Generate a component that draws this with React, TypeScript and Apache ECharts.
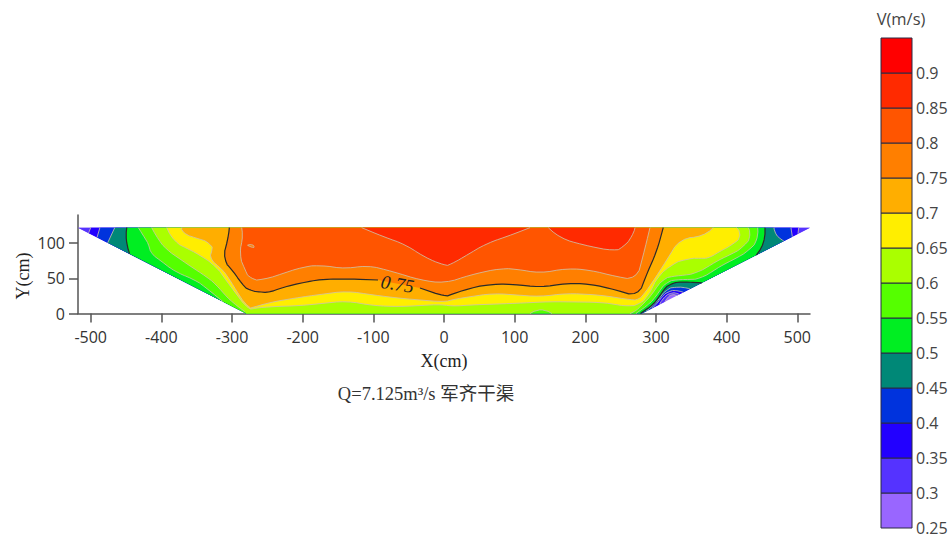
import React, { useEffect, useRef } from "react";
import * as echarts from "echarts";

type P = number[];

const xTicks = [-500, -400, -300, -200, -100, 0, 100, 200, 300, 400, 500];
const yTicks = [0, 50, 100];
const legendLevels = [0.25, 0.3, 0.35, 0.4, 0.45, 0.5, 0.55, 0.6, 0.65, 0.7, 0.75, 0.8, 0.85, 0.9, 0.95];
const legendTicks = [0.25, 0.3, 0.35, 0.4, 0.45, 0.5, 0.55, 0.6, 0.65, 0.7, 0.75, 0.8, 0.85, 0.9];
const legendColors = ["#9966ff", "#5533ff", "#2200ff", "#0033dd", "#008877", "#00ee22", "#55ff00", "#aaff00", "#ffee00", "#ffae00", "#ff7f00", "#ff5500", "#ff2a00", "#ff0000"];

const channel: P[] = [[-518, 122], [-280, 0], [280, 0], [518, 122]];
const cornerL: P = [-280, 0];
const cornerR: P = [280, 0];
const tipL: P = [-518, 122];
const tipR: P = [518, 122];

const pocket30: P[] = [[312.8, 16.8], [317, 24], [323, 27.5], [328, 26], [330, 25.6]];
const left35: P[] = [[-500, 122], [-503, 114.3]];
const pocket35: P[] = [[305, 12.8], [311, 24], [322, 30], [329, 29], [333, 27.2]];
const right35: P[] = [[501, 113.5], [502, 122]];
const left40: P[] = [[-487, 122], [-491, 108.2]];
const pocket40: P[] = [[294, 7.2], [301, 13], [308, 23.9], [317.4, 32], [329.3, 33.4], [338.7, 30.1]];
const right40: P[] = [[493, 109.2], [491, 122]];
const left45: P[] = [[-466, 122], [-476, 100.5]];
const pocket45: P[] = [[286, 3.1], [299, 13.5], [306, 23.5], [315.2, 34.8], [326.9, 38.1], [343.5, 36.7], [348, 34.9]];
const right45: P[] = [[481, 103], [475.5, 106.3], [468.4, 113.4], [467, 122]];
const left50: P[] = [[-449, 122], [-451, 104.5], [-445, 85]];
const pocket50: P[] = [[278, 0], [284.5, 5], [294, 10.7], [303.3, 21.6], [310.3, 33.4], [319.8, 42.9], [336.4, 45.2], [350.5, 44.3], [365, 43.6]];
const right50: P[] = [[442, 83], [454.3, 99.8], [454.3, 122]];
const left55: P[] = [[-432.6, 122], [-423.1, 106.9], [-416.1, 94.9], [-416.1, 85.6], [-401.9, 76], [-378.3, 57.1], [-354.8, 50], [-335.8, 35.8], [-313, 17]];
const right55: P[] = [[271.7, 0], [278.8, 5], [288.7, 12.1], [298.6, 22], [305.7, 33.4], [315.2, 45.2], [328.3, 48.3], [348.1, 48.3], [362.3, 49], [381.1, 60.4], [395.3, 69.9], [414.2, 78.5], [433, 90.3], [444.8, 104.5], [444, 122]];
const left60: P[] = [[-413.7, 122], [-404.3, 104.5], [-392.4, 90.3], [-378.3, 80.7], [-354.8, 64.2], [-335.8, 52.3], [-321.7, 40.5], [-312.3, 28.7], [-298.2, 14.5], [-281.6, 2.6]];
const floorNotch60: P[] = [[121.7, 0], [137.3, 8.5], [152.8, 0]];
const right60: P[] = [[263.2, 0], [270.3, 2.8], [277.4, 9.2], [285.9, 17.8], [293.9, 26.3], [301, 37.7], [310.3, 49], [322.7, 53.3], [341, 54], [357.6, 57.6], [374, 66.5], [388.2, 76], [404.7, 83.1], [426, 94.9], [435.5, 111.6], [430.6, 122]];
const line65: P[] = [[-392.4, 122], [-383.1, 102], [-364.1, 92.7], [-345.3, 83.1], [-321.7, 66.5], [-312.3, 52.3], [-298.2, 33.4], [-277, 5], [-269.9, 7.4], [-246.2, 9.7], [-203.8, 11.1], [-137.7, 17.8], [-100, 11.1], [-62.3, 9.7], [-1, 13.1], [8.5, 9.9], [36.8, 12.1], [102.9, 14.5], [150, 16.8], [220.8, 15.9], [242, 13.1], [260.8, 9.7], [277.4, 12.8], [287.3, 23.5], [296.2, 38.1], [300, 49], [319.8, 68.9], [343.5, 78.5], [364.7, 78.5], [376.4, 78.5], [388.2, 87.8], [409.4, 97.4], [423.1, 111.6], [414.2, 122]];
const line70: P[] = [[-371.2, 122], [-371.2, 114], [-350, 106.9], [-328.8, 100.6], [-327.3, 87.8], [-333.6, 78.5], [-317, 66.1], [-305.3, 52.3], [-293.4, 31], [-277, 7.4], [-270.3, 8.5], [-248.7, 15.4], [-201.4, 23.5], [-137.7, 32], [-100, 26.3], [-62.3, 21.6], [1.4, 16.3], [8.5, 19.2], [36.8, 23.9], [69.8, 28.7], [135.9, 23.9], [173.6, 28.7], [220.8, 26.3], [265.6, 19.2], [275, 19.2], [282, 26.3], [294.4, 43.3], [315.2, 76], [334, 106.9], [367, 109.2], [381.1, 122]];
const line75a: P[] = [[-303.8, 122], [-305.7, 104.5], [-314.2, 76], [-298.6, 61.8], [-285.9, 40.5], [-274.5, 32], [-260.4, 30.6], [-246.2, 29.6], [-236.3, 34.8], [-203.8, 43.3], [-171.2, 49], [-133, 49], [-93.4, 47.6]];
const line75b: P[] = [[-34, 36.2], [1.4, 23.9], [8.5, 26.3], [36.8, 36.2], [67.5, 41.9], [97.6, 41.5], [135.9, 37.2], [173.6, 42.9], [206.6, 41.9], [244.4, 33.4], [275, 23.5], [284.5, 50.5], [301, 87.8], [310.3, 122]];
const line80: P[] = [[-286.3, 122], [-284, 104.5], [-291.1, 85.6], [-281.6, 61.8], [-274.5, 47.6], [-255.7, 47.6], [-227.4, 57.1], [-199.1, 66.5], [-175.5, 68.9], [-137.7, 63.2], [-109.4, 68.9], [-71.8, 59.4], [-34, 47.6], [1.4, 42.9], [36.8, 54.7], [79.3, 64.2], [102.9, 63.2], [135.9, 57.1], [173.6, 64.2], [206.6, 61.8], [244.4, 52.3], [272.7, 47.6], [284.5, 92.7], [291.5, 122]];
const island80: P[] = [[-278, 97], [-273, 99], [-267, 95], [-271, 93], [-278, 97]];
const lobeA85: P[] = [[-116.5, 122], [-85.9, 109.2], [-52.8, 97.4], [-29.3, 80.7], [1.4, 67.9], [8.5, 68.9], [36.8, 85.6], [60.4, 99.8], [88.7, 109.2], [121.7, 122]];
const lobeB85: P[] = [[147.6, 122], [164.2, 106.9], [197.1, 97.4], [239.6, 88.8], [253.7, 92.7], [267.9, 111.6], [270.3, 122]];

const contourLabel = { text: "0.75", x: -65.8, y: 41.9 };

const PALE = "rgba(205,195,175,0.8)";
const DARK = "#2a2a2a";

// each band's region is the chain of its pieces; one-point pieces are channel corners
type Band = { parts: P[][]; color: string; lines: P[][]; stroke: string };
const bands: Band[] = [
  { parts: [channel], color: legendColors[0], lines: [], stroke: PALE },
  { parts: [[tipL], [cornerL], [cornerR], pocket30, [tipR]], color: legendColors[1], lines: [pocket30], stroke: PALE },
  { parts: [left35, [cornerL], [cornerR], pocket35, right35], color: legendColors[2], lines: [left35, pocket35, right35], stroke: PALE },
  { parts: [left40, [cornerL], [cornerR], pocket40, right40], color: legendColors[3], lines: [left40, pocket40, right40], stroke: PALE },
  { parts: [left45, [cornerL], [cornerR], pocket45, right45], color: legendColors[4], lines: [left45, pocket45, right45], stroke: PALE },
  { parts: [left50, [cornerL], pocket50, right50], color: legendColors[5], lines: [left50, pocket50, right50], stroke: DARK },
  { parts: [left55, [cornerL], right55], color: legendColors[6], lines: [left55, right55], stroke: PALE },
  { parts: [left60, [cornerL], floorNotch60, right60], color: legendColors[7], lines: [left60, floorNotch60, right60], stroke: PALE },
  { parts: [line65], color: legendColors[8], lines: [line65], stroke: PALE },
  { parts: [line70], color: legendColors[9], lines: [line70], stroke: PALE },
  { parts: [line75a, line75b], color: legendColors[10], lines: [line75a, line75b], stroke: DARK },
  { parts: [line80], color: legendColors[11], lines: [line80], stroke: PALE },
  { parts: [island80], color: legendColors[10], lines: [island80], stroke: PALE },
  { parts: [lobeA85], color: legendColors[12], lines: [lobeA85], stroke: PALE },
  { parts: [lobeB85], color: legendColors[12], lines: [lobeB85], stroke: PALE },
];

const SANS = "'Open Sans', 'Noto Sans', sans-serif";
const SERIF = "'Liberation Serif', 'Noto Sans CJK SC', serif";

// rounds the corners of a drawn contour, in pixels, keeping its two ends fixed
function roundCorners(pts: number[][], radius: number): number[][] {
  if (pts.length < 3) return pts;
  const out: number[][] = [pts[0]];
  for (let i = 1; i < pts.length - 1; i++) {
    const p = pts[i], a = pts[i - 1], b = pts[i + 1];
    const la = Math.hypot(a[0] - p[0], a[1] - p[1]) || 1;
    const lb = Math.hypot(b[0] - p[0], b[1] - p[1]) || 1;
    const da = Math.min(la * 0.4, radius), db = Math.min(lb * 0.4, radius);
    out.push([p[0] + ((a[0] - p[0]) / la) * da, p[1] + ((a[1] - p[1]) / la) * da]);
    out.push([p[0] + ((b[0] - p[0]) / lb) * db, p[1] + ((b[1] - p[1]) / lb) * db]);
  }
  out.push(pts[pts.length - 1]);
  return out;
}
const soften = (pts: number[][]) => roundCorners(roundCorners(pts, 7), 3);

export default function App() {
  const ref = useRef<HTMLDivElement>(null);
  useEffect(() => {
    document.body.style.margin = "0";
    const chart = echarts.init(ref.current!, undefined, { renderer: "svg" });
    const axisBase = {
      axisLine: { show: true, onZero: false, lineStyle: { color: "#555", width: 1.5 } },
      axisTick: { show: true, length: 9, lineStyle: { color: "#555", width: 1.5 } },
      splitLine: { show: false },
    };
    chart.setOption({
      animation: false,
      backgroundColor: "#fff",
      grid: [
        { left: 78, top: 215, width: 732, height: 98.5, outerBoundsMode: "none" },
        { left: 881, top: 38, width: 31, height: 490, outerBoundsMode: "none" },
      ],
      xAxis: [
        {
          type: "value", gridIndex: 0, min: -518, max: 518, ...axisBase,
          axisTick: { ...axisBase.axisTick, customValues: xTicks },
          axisLabel: { customValues: xTicks, color: "#333", fontSize: 16, fontFamily: SANS, margin: 15 },
          name: "X(cm)", nameLocation: "middle", nameGap: 38,
          nameTextStyle: { fontFamily: SERIF, fontSize: 18, color: "#222" },
        },
        { type: "value", gridIndex: 1, min: 0, max: 1, show: false },
      ],
      yAxis: [
        {
          type: "value", gridIndex: 0, min: 0, max: 140, ...axisBase,
          axisTick: { ...axisBase.axisTick, customValues: yTicks },
          axisLabel: { customValues: yTicks, color: "#333", fontSize: 16, fontFamily: SANS, margin: 13 },
        },
        {
          type: "value", gridIndex: 1, min: 0.25, max: 0.95, position: "right",
          axisLine: { show: false }, axisTick: { show: false }, splitLine: { show: false },
          axisLabel: { customValues: legendTicks, color: "#444", fontSize: 16, lineHeight: 12, fontFamily: SANS, margin: 4, formatter: (v: number) => String(Number(v.toFixed(2))) },
        },
      ],
      series: [
        {
          type: "custom", xAxisIndex: 0, yAxisIndex: 0, silent: true, clip: false,
          data: bands.map((_, i) => [i, i]),
          renderItem: (params: any, api: any) => {
            const b = bands[params.dataIndex];
            const toPx = (pts: P[]) => soften(pts.map((p) => api.coord(p)));
            return {
              type: "group",
              children: [
                { type: "polygon", shape: { points: b.parts.flatMap(toPx) }, style: { fill: b.color, stroke: null } },
                ...b.lines.map((l) => ({ type: "polyline", shape: { points: toPx(l) }, style: { fill: null, stroke: b.stroke, lineWidth: b.stroke === DARK ? 1.2 : 1 } })),
              ],
            };
          },
        },
        {
          type: "custom", xAxisIndex: 0, yAxisIndex: 0, silent: true, clip: false,
          data: [[contourLabel.x, contourLabel.y]],
          renderItem: (_: any, api: any) => {
            const c = api.coord([contourLabel.x, contourLabel.y]);
            return {
              type: "text", x: c[0], y: c[1], rotation: -0.16,
              style: { text: contourLabel.text, fill: "#222", font: `italic 19px ${SERIF}`, align: "center", verticalAlign: "middle" },
            };
          },
        },
        {
          type: "custom", xAxisIndex: 1, yAxisIndex: 1, silent: true, clip: false,
          data: legendColors.map((_, i) => [0, legendLevels[i], legendLevels[i + 1]]),
          renderItem: (params: any, api: any) => {
            const i = params.dataIndex;
            const a = api.coord([0, legendLevels[i]]);
            const b = api.coord([1, legendLevels[i + 1]]);
            return {
              type: "rect",
              shape: { x: a[0], y: b[1], width: b[0] - a[0], height: a[1] - b[1] },
              style: { fill: legendColors[i], stroke: "#2a2a44", lineWidth: 1 },
            };
          },
        },
      ],
      graphic: [
        { type: "text", x: 23, y: 276, rotation: Math.PI / 2, style: { text: "Y(cm)", font: `18px ${SERIF}`, fill: "#222", align: "center", verticalAlign: "middle" } },
        { type: "text", x: 426, y: 394, style: { text: "Q=7.125m³/s 军齐干渠", font: `18.5px ${SERIF}`, fill: "#333", align: "center", verticalAlign: "middle" } },
        { type: "text", x: 901, y: 18, style: { text: "V(m/s)", font: `16.5px ${SANS}`, fill: "#444", align: "center", verticalAlign: "middle" } },
      ],
    });
    return () => chart.dispose();
  }, []);
  return <div ref={ref} style={{ position: "absolute", left: 0, top: 0, width: 950, height: 534 }} />;
}
